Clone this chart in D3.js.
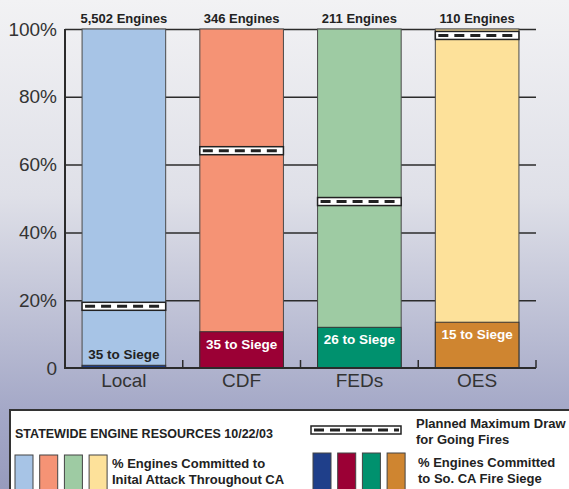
<!DOCTYPE html>
<html>
<head>
<meta charset="utf-8">
<script src="https://cdn.jsdelivr.net/npm/d3@7"></script>
<style>
  body { margin: 0; padding: 0; overflow: hidden; }
  text { font-family: "Liberation Sans", Arial, sans-serif; }
</style>
</head>
<body>
<div id="chart-area"></div>
<script>
// data
var agencies = ["Local", "CDF", "FEDs", "OES"];
var engineTotals = ["5,502 Engines", "346 Engines", "211 Engines", "110 Engines"];
var siegeCounts = [35, 35, 26, 15];
var siegePct = [0.8, 10.7, 12.0, 13.5];        // % committed to So. CA fire siege
var plannedMaxPct = [18.2, 64.1, 49.1, 98.1];  // planned max draw for going fires
var yTicks = [0, 20, 40, 60, 80, 100];

var lightColors = ["#a7c4e6", "#f59375", "#9ecba3", "#fde19a"];
var darkColors = ["#1f3f8a", "#9b0035", "#00916e", "#cf8530"];

var width = 569, height = 489;
var plot = {left: 65, right: 536, top: 29, bottom: 368};

var svg = d3.select("#chart-area").append("svg")
	.attr("width", width)
	.attr("height", height);

// background gradient
var defs = svg.append("defs");
var grad = defs.append("linearGradient")
	.attr("id", "bg")
	.attr("x1", 0).attr("y1", 0).attr("x2", 0).attr("y2", 1);
grad.append("stop").attr("offset", "0%").attr("stop-color", "#f2f2f4");
grad.append("stop").attr("offset", "40%").attr("stop-color", "#dfe0e8");
grad.append("stop").attr("offset", "84%").attr("stop-color", "#a4a8c7");
grad.append("stop").attr("offset", "100%").attr("stop-color", "#979bbd");

svg.append("rect")
	.attr("width", width).attr("height", height)
	.attr("fill", "url(#bg)");

var x = d3.scaleBand()
	.domain(agencies)
	.range([plot.left, plot.right])
	.paddingInner(0.29)
	.paddingOuter(0.145);

var y = d3.scaleLinear()
	.domain([0, 100])
	.range([plot.bottom, plot.top]);

var data = agencies.map((a, i) => {
	return {name: a, total: engineTotals[i], count: siegeCounts[i],
		siege: siegePct[i], planned: plannedMaxPct[i],
		light: lightColors[i], dark: darkColors[i]};
});

// left axis + gridlines
var leftAxis = d3.axisLeft(y)
	.tickValues(yTicks)
	.tickSize(-(plot.right - plot.left))
	.tickPadding(8)
	.tickFormat((d) => { return d === 0 ? "0" : d + "%"; });

var gy = svg.append("g")
	.attr("class", "left axis")
	.attr("transform", "translate(" + plot.left + ",0)")
	.call(leftAxis);
gy.select(".domain").remove();
gy.selectAll(".tick line")
	.attr("stroke", "#2b2b2b")
	.attr("stroke-width", 1.5);
gy.selectAll(".tick text")
	.attr("font-family", "Noto Sans, sans-serif")
	.attr("font-size", "19px")
	.attr("fill", "#333");
gy.selectAll(".tick").filter((d) => d === 0).select("line").remove();

// bars: full 100% stack
var bars = svg.append("g").selectAll("g.bar").data(data).enter()
	.append("g").attr("class", "bar");

bars.append("rect")
	.attr("x", (d) => x(d.name))
	.attr("y", y(100))
	.attr("width", x.bandwidth())
	.attr("height", y(0) - y(100))
	.attr("fill", (d) => d.light)
	.attr("stroke", "#4a4a4a")
	.attr("stroke-width", 1);

bars.append("rect")
	.attr("x", (d) => x(d.name))
	.attr("y", (d) => y(d.siege))
	.attr("width", x.bandwidth())
	.attr("height", (d) => y(0) - y(d.siege))
	.attr("fill", (d) => d.dark)
	.attr("stroke", "#333")
	.attr("stroke-width", 1);

// planned max draw markers
function drawMarker(sel, w) {
	sel.append("rect")
		.attr("x", 0).attr("y", -4)
		.attr("width", w).attr("height", 8)
		.attr("fill", "#fff")
		.attr("stroke", "#222")
		.attr("stroke-width", 1.5);
	sel.append("line")
		.attr("x1", 3).attr("x2", w - 2)
		.attr("y1", 0).attr("y2", 0)
		.attr("stroke", "#222")
		.attr("stroke-width", 3)
		.attr("stroke-dasharray", "10,6");
}

bars.append("g")
	.attr("transform", (d) => "translate(" + x(d.name) + "," + y(d.planned) + ")")
	.each(function() { drawMarker(d3.select(this), x.bandwidth()); });

// top labels
bars.append("text")
	.attr("x", (d) => x(d.name) + x.bandwidth() / 2)
	.attr("y", 23)
	.attr("text-anchor", "middle")
	.attr("font-size", "13px")
	.attr("font-weight", "bold")
	.attr("fill", "#222")
	.text((d) => d.total);

// siege labels
bars.append("text")
	.attr("x", (d) => x(d.name) + x.bandwidth() / 2)
	.attr("y", (d) => d.siege < 3 ? y(d.siege) - 6 : y(d.siege) + 17)
	.attr("text-anchor", "middle")
	.attr("font-size", "13.5px")
	.attr("font-weight", "bold")
	.attr("fill", (d) => d.siege < 3 ? "#222" : "#fff")
	.text((d) => d.count + " to Siege");

// bottom axis
var bottomAxis = d3.axisBottom(x).tickSize(0).tickPadding(6);
var gx = svg.append("g")
	.attr("class", "bottom axis")
	.attr("transform", "translate(0," + plot.bottom + ")")
	.call(bottomAxis);
gx.select(".domain").remove();
gx.selectAll(".tick text")
	.attr("font-family", "Noto Sans, sans-serif")
	.attr("font-size", "19px")
	.attr("fill", "#333");

// axis lines
var step = x.step();
var bounds = agencies.map((a) => x(a) + x.bandwidth() + x.paddingInner() * step / 2);
svg.append("g").selectAll("line").data(bounds).enter()
	.append("line")
	.attr("x1", (d) => d).attr("x2", (d) => d)
	.attr("y1", plot.bottom).attr("y2", plot.bottom - 8)
	.attr("stroke", "#2b2b2b")
	.attr("stroke-width", 1.5);

svg.append("path")
	.attr("d", "M" + plot.left + "," + plot.top + "V" + plot.bottom + "H" + plot.right)
	.attr("fill", "none")
	.attr("stroke", "#2b2b2b")
	.attr("stroke-width", 2);

// legend
var lg = svg.append("g").attr("class", "legend");
lg.append("rect")
	.attr("x", 10).attr("y", 410)
	.attr("width", 600).attr("height", 100)
	.attr("fill", "#fff")
	.attr("stroke", "#333")
	.attr("stroke-width", 2);

lg.append("text")
	.attr("x", 15).attr("y", 438)
	.attr("font-size", "12.5px")
	.attr("font-weight", "bold")
	.attr("fill", "#222")
	.text("STATEWIDE ENGINE RESOURCES 10/22/03");

lg.selectAll("rect.light").data(lightColors).enter()
	.append("rect").attr("class", "light")
	.attr("x", (d, i) => 15 + i * 24.7)
	.attr("y", 455).attr("width", 18).attr("height", 40)
	.attr("fill", (d) => d)
	.attr("stroke", "#444").attr("stroke-width", 1);

lg.selectAll("rect.dark").data(darkColors).enter()
	.append("rect").attr("class", "dark")
	.attr("x", (d, i) => 313 + i * 24.7)
	.attr("y", 453).attr("width", 18).attr("height", 40)
	.attr("fill", (d) => d)
	.attr("stroke", "#444").attr("stroke-width", 1);

var lm = lg.append("g").attr("transform", "translate(311,430)");
drawMarker(lm, 90);

function legendText(xp, yp, lines) {
	var t = lg.append("text")
		.attr("x", xp).attr("y", yp)
		.attr("font-size", "13px")
		.attr("font-weight", "bold")
		.attr("fill", "#222");
	lines.forEach((l, i) => {
		t.append("tspan").attr("x", xp).attr("dy", i === 0 ? 0 : 15.5).text(l);
	});
}
legendText(112, 468, ["% Engines Committed to", "Inital Attack Throughout CA"]);
legendText(416, 428, ["Planned Maximum Draw", "for Going Fires"]);
legendText(418, 467, ["% Engines Committed", "to So. CA Fire Siege"]);
</script>
</body>
</html>
